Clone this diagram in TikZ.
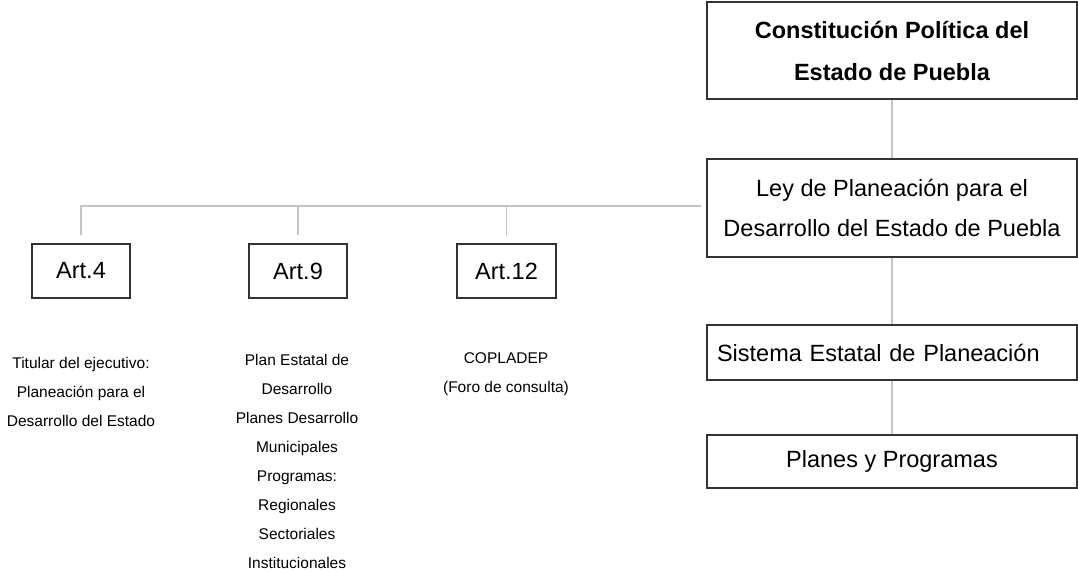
\documentclass[tikz,border=0pt]{standalone}
\usepackage{fontspec}
\setmainfont{Liberation Sans}
\begin{document}
\begin{tikzpicture}[x=1pt,y=-1pt,
  box/.style={draw=boxgray,line width=1.4pt,inner sep=0pt,text=black},
  bigtxt/.style={font=\fontsize{23.5}{40}\selectfont},
  smalltxt/.style={font=\fontsize{15.5}{29}\selectfont,align=center,inner sep=0pt,anchor=north},
  conn/.style={draw=linegray,line width=1.2pt}]
\definecolor{boxgray}{HTML}{333333}
\definecolor{linegray}{HTML}{C4C4C4}
\useasboundingbox (0,0) rectangle (1078,571);
% right column
\node[box,minimum width=370pt,minimum height=97pt,align=center,
  font=\fontsize{23.5}{42}\selectfont\bfseries] (cpe) at (892,50.5)
  {Constitución Política del\\Estado de Puebla};
\node[box,bigtxt,minimum width=370pt,minimum height=98pt,align=center] (ley) at (892,208)
  {Ley de Planeación para el\\Desarrollo del Estado de Puebla};
\node[box,bigtxt,minimum width=370pt,minimum height=55pt,text width=350pt,align=left] (sep) at (892,352.5)
  {Sistema Estatal de Planeación};
\node[box,bigtxt,minimum width=370pt,minimum height=53pt] (pyp) at (892,461.5)
  {Planes y Programas};
\draw[conn] (cpe.south) -- (ley.north);
\draw[conn] (ley.south) -- (sep.north);
\draw[conn] (sep.south) -- (pyp.north);
% articles
\node[box,bigtxt,minimum width=98pt,minimum height=54pt] (a4) at (81,271) {Art.4};
\node[box,bigtxt,minimum width=98pt,minimum height=54pt] (a9) at (298,271) {Art.9};
\node[box,bigtxt,minimum width=99pt,minimum height=54pt] (a12) at (506.5,271) {Art.12};
\coordinate (hend) at (701,206);
\draw[conn,shorten >=8pt] (hend) -| (a4.north);
\draw[conn,shorten >=8pt] (a9.north |- hend) -- (a9.north);
\draw[conn,shorten >=7pt] (a12.north |- hend) -- (a12.north);
% descriptions
\node[smalltxt] (t4) at (81,357) {Titular del ejecutivo:\\Planeación para el\\Desarrollo del Estado};
\node[smalltxt] (t9) at (297,354) {Plan Estatal de\\Desarrollo\\Planes Desarrollo\\Municipales\\Programas:\\Regionales\\Sectoriales\\Institucionales};
\node[smalltxt] (t12) at (506,352) {COPLADEP\\(Foro de consulta)};
\end{tikzpicture}
\end{document}
